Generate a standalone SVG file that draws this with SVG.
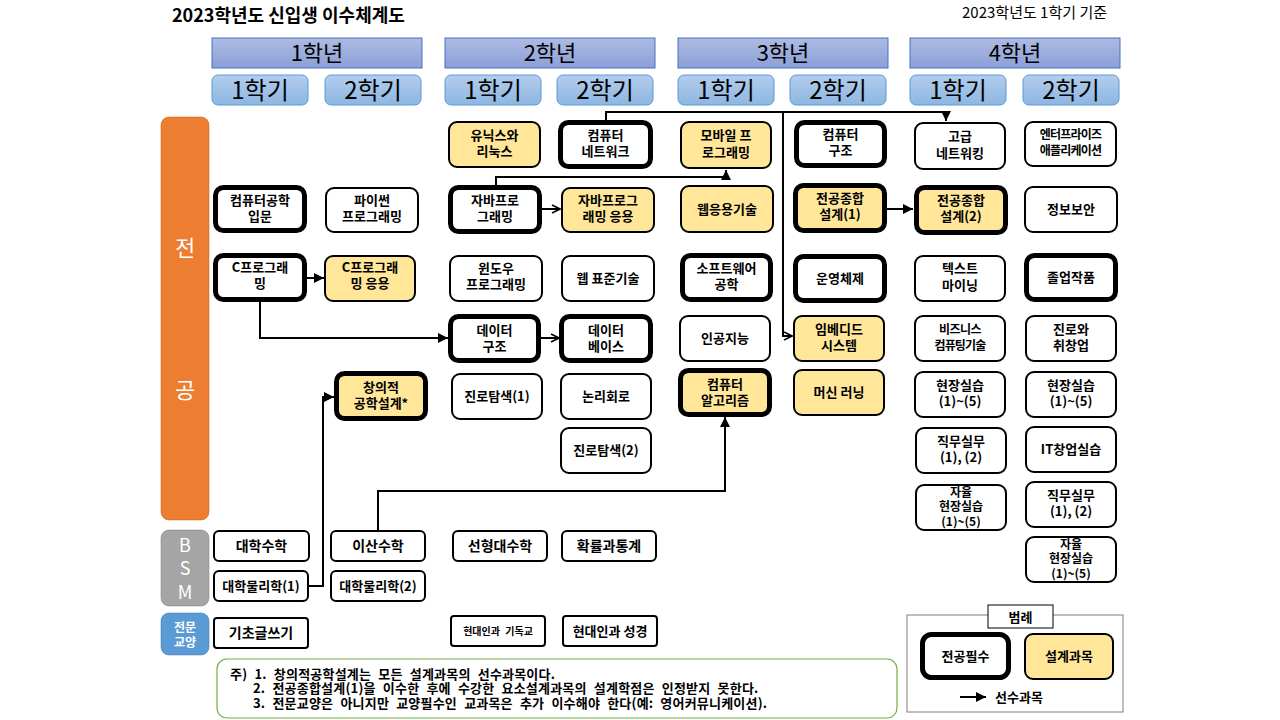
<svg xmlns="http://www.w3.org/2000/svg" width="1280" height="720" viewBox="0 0 1280 720">
<defs>
<linearGradient id="gYear" x1="0" y1="0" x2="0" y2="1"><stop offset="0" stop-color="#aebbe2"/><stop offset="1" stop-color="#8b9fd8"/></linearGradient>
<linearGradient id="gSem" x1="0" y1="0" x2="0" y2="1"><stop offset="0" stop-color="#b3cdec"/><stop offset="1" stop-color="#8db6e2"/></linearGradient>
<marker id="arr" viewBox="0 0 10 10" refX="10" refY="5" markerWidth="5" markerHeight="5" orient="auto" markerUnits="strokeWidth"><path d="M0,0 L10,5 L0,10 z" fill="#000"/></marker>
<marker id="chev" viewBox="0 0 10 10" refX="9" refY="5" markerWidth="5" markerHeight="6" orient="auto" markerUnits="strokeWidth"><path d="M1,1 L9,5 L1,9" fill="none" stroke="#000" stroke-width="1.6"/></marker>
</defs>
<style>
text{font-family:"Noto Sans CJK KR","Noto Sans",sans-serif;fill:#000}
.n{fill:#fff;stroke:#000;stroke-width:2}
.t{fill:#fff;stroke:#000;stroke-width:5}
.y{fill:#ffe699}
.l{font-size:13px;font-weight:bold;text-anchor:middle}
.s{font-size:12px;font-weight:bold;text-anchor:middle}
.b{font-size:14px;font-weight:bold;text-anchor:middle}
.yr{fill:url(#gYear);stroke:#4472c4;stroke-width:1}
.sm{fill:url(#gSem);stroke:#5b9bd5;stroke-width:1}
.h{font-size:22px;text-anchor:middle}
.hs{font-size:24px;text-anchor:middle}
.c{fill:none;stroke:#000;stroke-width:2}
.side{font-size:22px;fill:#fff;text-anchor:middle}
.bsm{font-size:18px;fill:#fff;text-anchor:middle}
.ge{font-size:12px;font-weight:bold;fill:#fff;text-anchor:middle}
.note{font-size:13px;font-weight:bold;word-spacing:4px;letter-spacing:0.2px}
</style>
<rect width="1280" height="720" fill="#fff"/>
<text x="172" y="22" font-size="18" font-weight="bold">2023학년도 신입생 이수체계도</text>
<text x="1107" y="18" font-size="15" text-anchor="end">2023학년도 1학기 기준</text>

<g id="headers">
<rect class="yr" x="212" y="38" width="210" height="30"/><text class="h" x="317" y="61">1학년</text>
<rect class="yr" x="445" y="38" width="210" height="30"/><text class="h" x="550" y="61">2학년</text>
<rect class="yr" x="678" y="38" width="210" height="30"/><text class="h" x="783" y="61">3학년</text>
<rect class="yr" x="910" y="38" width="210" height="30"/><text class="h" x="1015" y="61">4학년</text>
<rect class="sm" x="212" y="75" width="96" height="30" rx="6"/><text class="hs" x="260" y="99">1학기</text>
<rect class="sm" x="325" y="75" width="96" height="30" rx="6"/><text class="hs" x="373" y="99">2학기</text>
<rect class="sm" x="445" y="75" width="96" height="30" rx="6"/><text class="hs" x="493" y="99">1학기</text>
<rect class="sm" x="557" y="75" width="96" height="30" rx="6"/><text class="hs" x="605" y="99">2학기</text>
<rect class="sm" x="678" y="75" width="96" height="30" rx="6"/><text class="hs" x="726" y="99">1학기</text>
<rect class="sm" x="790" y="75" width="96" height="30" rx="6"/><text class="hs" x="838" y="99">2학기</text>
<rect class="sm" x="910" y="75" width="96" height="30" rx="6"/><text class="hs" x="958" y="99">1학기</text>
<rect class="sm" x="1023" y="75" width="96" height="30" rx="6"/><text class="hs" x="1071" y="99">2학기</text>
</g>

<g id="side">
<rect x="161" y="117" width="48" height="403" rx="8" fill="#ed7d31" stroke="#c55a11" stroke-width="0.5"/>
<text class="side" x="185" y="256">전</text><text class="side" x="185" y="398">공</text>
<rect x="161" y="530" width="48" height="76" rx="8" fill="#a5a5a5" stroke="#7f7f7f" stroke-width="0.5"/>
<text class="bsm" x="185" y="552">B</text><text class="bsm" x="185" y="575">S</text><text class="bsm" x="185" y="599">M</text>
<rect x="161" y="613" width="48" height="42" rx="8" fill="#5b9bd5" stroke="#41719c" stroke-width="0.5"/>
<text class="ge" x="185" y="632">전문</text>
<text class="ge" x="185" y="647">교양</text>
</g>

<g id="connectors">
<path class="c" d="M606,120 V112 H946 V121" marker-end="url(#arr)"/>
<path class="c" d="M783,112 V336 H792" marker-end="url(#chev)"/>
<path class="c" d="M496,185 V177 H726 V170" marker-end="url(#arr)"/>
<path class="c" d="M541,209 H560" marker-end="url(#chev)"/>
<path class="c" d="M306,278 H324" marker-end="url(#arr)"/>
<path class="c" d="M260,301 V338 H448" marker-end="url(#arr)"/>
<path class="c" d="M541,338 H559" marker-end="url(#chev)"/>
<path class="c" d="M886,209 H913" marker-end="url(#arr)"/>
<path class="c" d="M308,586 H323 V397 H334" marker-end="url(#arr)"/>
<path class="c" d="M378,531 V491 H725 V417" marker-end="url(#arr)"/>
</g>

<!-- row 1 -->
<g id="unix"><rect class="n y" x="449" y="122" width="91" height="45" rx="8"/><text class="l" x="494.5" y="140">유닉스와</text><text class="l" x="494.5" y="156">리눅스</text></g>
<g id="network"><rect class="t" x="560.5" y="122.5" width="90" height="44" rx="8"/><text class="l" x="605.5" y="140">컴퓨터</text><text class="l" x="605.5" y="156">네트워크</text></g>
<g id="mobile"><rect class="n y" x="681" y="122" width="90" height="46" rx="8"/><text class="l" x="726" y="140">모바일 프</text><text class="l" x="726" y="157">로그래밍</text></g>
<g id="arch"><rect class="t" x="796.5" y="122.5" width="88" height="43" rx="8"/><text class="l" x="840.5" y="139">컴퓨터</text><text class="l" x="840.5" y="155">구조</text></g>
<g id="advnet"><rect class="n" x="915" y="123" width="90" height="46" rx="8"/><text class="l" x="960" y="141">고급</text><text class="l" x="960" y="158">네트워킹</text></g>
<g id="enterprise"><rect class="n" x="1025" y="122" width="91" height="44" rx="8"/><text class="s" x="1070.5" y="139" letter-spacing="-0.8">엔터프라이즈</text><text class="s" x="1070.5" y="155" letter-spacing="-0.8">애플리케이션</text></g>

<!-- row 2 -->
<g id="intro"><rect class="t" x="215.5" y="187.5" width="89" height="43" rx="8"/><text class="l" x="260" y="205">컴퓨터공학</text><text class="l" x="260" y="221">입문</text></g>
<g id="python"><rect class="n" x="326" y="188" width="92" height="44" rx="8"/><text class="l" x="372" y="205">파이썬</text><text class="l" x="372" y="221">프로그래밍</text></g>
<g id="java"><rect class="t" x="450.5" y="187.5" width="89" height="44" rx="8"/><text class="l" x="495" y="205">자바프로</text><text class="l" x="495" y="221">그래밍</text></g>
<g id="javaapp"><rect class="n y" x="562" y="188" width="92" height="44" rx="8"/><text class="l" x="608" y="205">자바프로그</text><text class="l" x="608" y="221">래밍 응용</text></g>
<g id="webapp"><rect class="n y" x="681" y="186" width="92" height="46" rx="8"/><text class="l" x="727" y="214">웹응용기술</text></g>
<g id="capstone1"><rect class="t y" x="795.5" y="185.5" width="89" height="45" rx="8"/><text class="l" x="840" y="203">전공종합</text><text class="l" x="840" y="219">설계(1)</text></g>
<g id="capstone2"><rect class="t y" x="916.5" y="187.5" width="89" height="45" rx="8"/><text class="l" x="961" y="205">전공종합</text><text class="l" x="961" y="221">설계(2)</text></g>
<g id="security"><rect class="n" x="1025" y="187" width="92" height="45" rx="8"/><text class="l" x="1071" y="214">정보보안</text></g>

<!-- row 3 -->
<g id="cprog"><rect class="t" x="215.5" y="255.5" width="89" height="44" rx="8"/><text class="l" x="260" y="272">C프로그래</text><text class="l" x="260" y="288">밍</text></g>
<g id="capp"><rect class="n y" x="325" y="256" width="90" height="45" rx="8"/><text class="l" x="370" y="272">C프로그래</text><text class="l" x="370" y="288">밍 응용</text></g>
<g id="windows"><rect class="n" x="450" y="256" width="92" height="45" rx="8"/><text class="l" x="496" y="273">윈도우</text><text class="l" x="496" y="289">프로그래밍</text></g>
<g id="webstd"><rect class="n" x="562" y="256" width="92" height="45" rx="8"/><text class="l" x="608" y="283">웹 표준기술</text></g>
<g id="se"><rect class="t" x="682.5" y="255.5" width="88" height="44" rx="8"/><text class="l" x="726.5" y="273">소프트웨어</text><text class="l" x="726.5" y="289">공학</text></g>
<g id="os"><rect class="t" x="795.5" y="256.5" width="89" height="44" rx="8"/><text class="l" x="840" y="283">운영체제</text></g>
<g id="textmining"><rect class="n" x="915" y="256" width="90" height="45" rx="8"/><text class="l" x="960" y="273">텍스트</text><text class="l" x="960" y="290">마이닝</text></g>
<g id="graduation"><rect class="t" x="1026.5" y="255.5" width="89" height="44" rx="8"/><text class="l" x="1071" y="282">졸업작품</text></g>

<!-- row 4 -->
<g id="ds"><rect class="t" x="450.5" y="316.5" width="88" height="44" rx="8"/><text class="l" x="494.5" y="335">데이터</text><text class="l" x="494.5" y="351">구조</text></g>
<g id="db"><rect class="t" x="561.5" y="316.5" width="89" height="44" rx="8"/><text class="l" x="606" y="335">데이터</text><text class="l" x="606" y="351">베이스</text></g>
<g id="ai"><rect class="n" x="680" y="316" width="90" height="45" rx="8"/><text class="l" x="725" y="343">인공지능</text></g>
<g id="embedded"><rect class="n y" x="794" y="316" width="90" height="45" rx="8"/><text class="l" x="839" y="334">임베디드</text><text class="l" x="839" y="350">시스템</text></g>
<g id="business"><rect class="n" x="915" y="316" width="90" height="45" rx="8"/><text class="s" x="960" y="334" letter-spacing="-0.6">비즈니스</text><text class="s" x="960" y="350" letter-spacing="-0.8">컴퓨팅기술</text></g>
<g id="career"><rect class="n" x="1026" y="316" width="90" height="45" rx="8"/><text class="l" x="1071" y="334">진로와</text><text class="l" x="1071" y="350">취창업</text></g>

<!-- row 5 -->
<g id="creative"><rect class="t y" x="336.5" y="373.5" width="89" height="45" rx="8"/><text class="l" x="381" y="392">창의적</text><text class="l" x="381" y="408">공학설계*</text></g>
<g id="explore1"><rect class="n" x="452" y="374" width="90" height="45" rx="8"/><text class="l" x="497" y="401">진로탐색(1)</text></g>
<g id="logic"><rect class="n" x="561" y="374" width="90" height="45" rx="8"/><text class="l" x="606" y="401">논리회로</text></g>
<g id="algo"><rect class="t y" x="680.5" y="370.5" width="89" height="44" rx="8"/><text class="l" x="725" y="389">컴퓨터</text><text class="l" x="725" y="405">알고리즘</text></g>
<g id="ml"><rect class="n y" x="794" y="370" width="90" height="45" rx="8"/><text class="l" x="839" y="397">머신 러닝</text></g>
<g id="intern1"><rect class="n" x="915" y="372" width="90" height="45" rx="8"/><text class="l" x="960" y="390">현장실습</text><text class="l" x="960" y="406">(1)~(5)</text></g>
<g id="intern2"><rect class="n" x="1026" y="372" width="90" height="45" rx="8"/><text class="l" x="1071" y="390">현장실습</text><text class="l" x="1071" y="406">(1)~(5)</text></g>

<!-- row 6 -->
<g id="explore2"><rect class="n" x="561" y="428" width="90" height="45" rx="8"/><text class="l" x="606" y="455">진로탐색(2)</text></g>
<g id="job1"><rect class="n" x="916" y="428" width="90" height="45" rx="8"/><text class="l" x="961" y="446">직무실무</text><text class="l" x="961" y="462">(1), (2)</text></g>
<g id="itstartup"><rect class="n" x="1026" y="427" width="90" height="45" rx="8"/><text class="l" x="1071" y="454">IT창업실습</text></g>

<!-- row 7 -->
<g id="selfintern1"><rect class="n" x="916" y="485" width="90" height="45" rx="8"/><text class="s" x="961" y="497">자율</text><text class="s" x="961" y="511">현장실습</text><text class="s" x="961" y="526">(1)~(5)</text></g>
<g id="job2"><rect class="n" x="1026" y="482" width="90" height="45" rx="8"/><text class="l" x="1071" y="500">직무실무</text><text class="l" x="1071" y="516">(1), (2)</text></g>

<!-- row 8 -->
<g id="selfintern2"><rect class="n" x="1026" y="537" width="90" height="45" rx="8"/><text class="s" x="1071" y="549">자율</text><text class="s" x="1071" y="563">현장실습</text><text class="s" x="1071" y="578">(1)~(5)</text></g>

<!-- BSM -->
<g id="calculus"><rect class="n" x="214" y="531" width="95" height="30" rx="5"/><text class="b" x="261.5" y="551">대학수학</text></g>
<g id="discrete"><rect class="n" x="331" y="531" width="94" height="30" rx="5"/><text class="b" x="378" y="551">이산수학</text></g>
<g id="linear"><rect class="n" x="453" y="531" width="94" height="30" rx="5"/><text class="b" x="500" y="551">선형대수학</text></g>
<g id="prob"><rect class="n" x="562" y="531" width="94" height="30" rx="5"/><text class="b" x="609" y="551">확률과통계</text></g>
<g id="physics1"><rect class="n" x="214" y="571" width="94" height="30" rx="5"/><text class="l" x="261" y="591">대학물리학(1)</text></g>
<g id="physics2"><rect class="n" x="331" y="571" width="94" height="30" rx="5"/><text class="l" x="378" y="591">대학물리학(2)</text></g>

<!-- 전문교양 -->
<g id="writing"><rect class="n" x="214" y="618" width="94" height="30" rx="3"/><text class="b" x="261" y="638">기초글쓰기</text></g>
<g id="christ"><rect class="n" x="451" y="616" width="94" height="30" rx="3"/><text x="498" y="635" style="font-size:10px;font-weight:bold;text-anchor:middle;word-spacing:3px">현대인과 기독교</text></g>
<g id="bible"><rect class="n" x="563" y="616" width="94" height="30" rx="3"/><text class="l" x="610" y="636">현대인과 성경</text></g>

<!-- notes -->
<g id="notes">
<rect x="217" y="659" width="680" height="59" rx="10" fill="#fff" stroke="#70ad47" stroke-width="1.2"/>
<text class="note" x="230" y="679">주) 1. 창의적공학설계는 모든 설계과목의 선수과목이다.</text>
<text class="note" x="253" y="693">2. 전공종합설계(1)을 이수한 후에 수강한 요소설계과목의 설계학점은 인정받지 못한다.</text>
<text class="note" x="253" y="708">3. 전문교양은 아니지만 교양필수인 교과목은 추가 이수해야 한다(예: 영어커뮤니케이션).</text>
</g>

<!-- legend -->
<g id="legend">
<rect x="907" y="615" width="216" height="97" fill="#fff" stroke="#7f7f7f" stroke-width="1"/>
<rect x="988" y="605" width="65" height="23" fill="#fff" stroke="#000" stroke-width="1"/>
<text x="1020.5" y="622" font-size="13" font-weight="bold" text-anchor="middle">범례</text>
<rect class="t" x="922.5" y="634.5" width="86" height="43" rx="9"/><text class="l" x="965.5" y="661">전공필수</text>
<rect class="n y" x="1025" y="634" width="88" height="45" rx="8"/><text class="l" x="1069" y="661">설계과목</text>
<path class="c" d="M960,697 H986" marker-end="url(#arr)"/>
<text x="995" y="702" font-size="13" font-weight="bold">선수과목</text>
</g>
</svg>
